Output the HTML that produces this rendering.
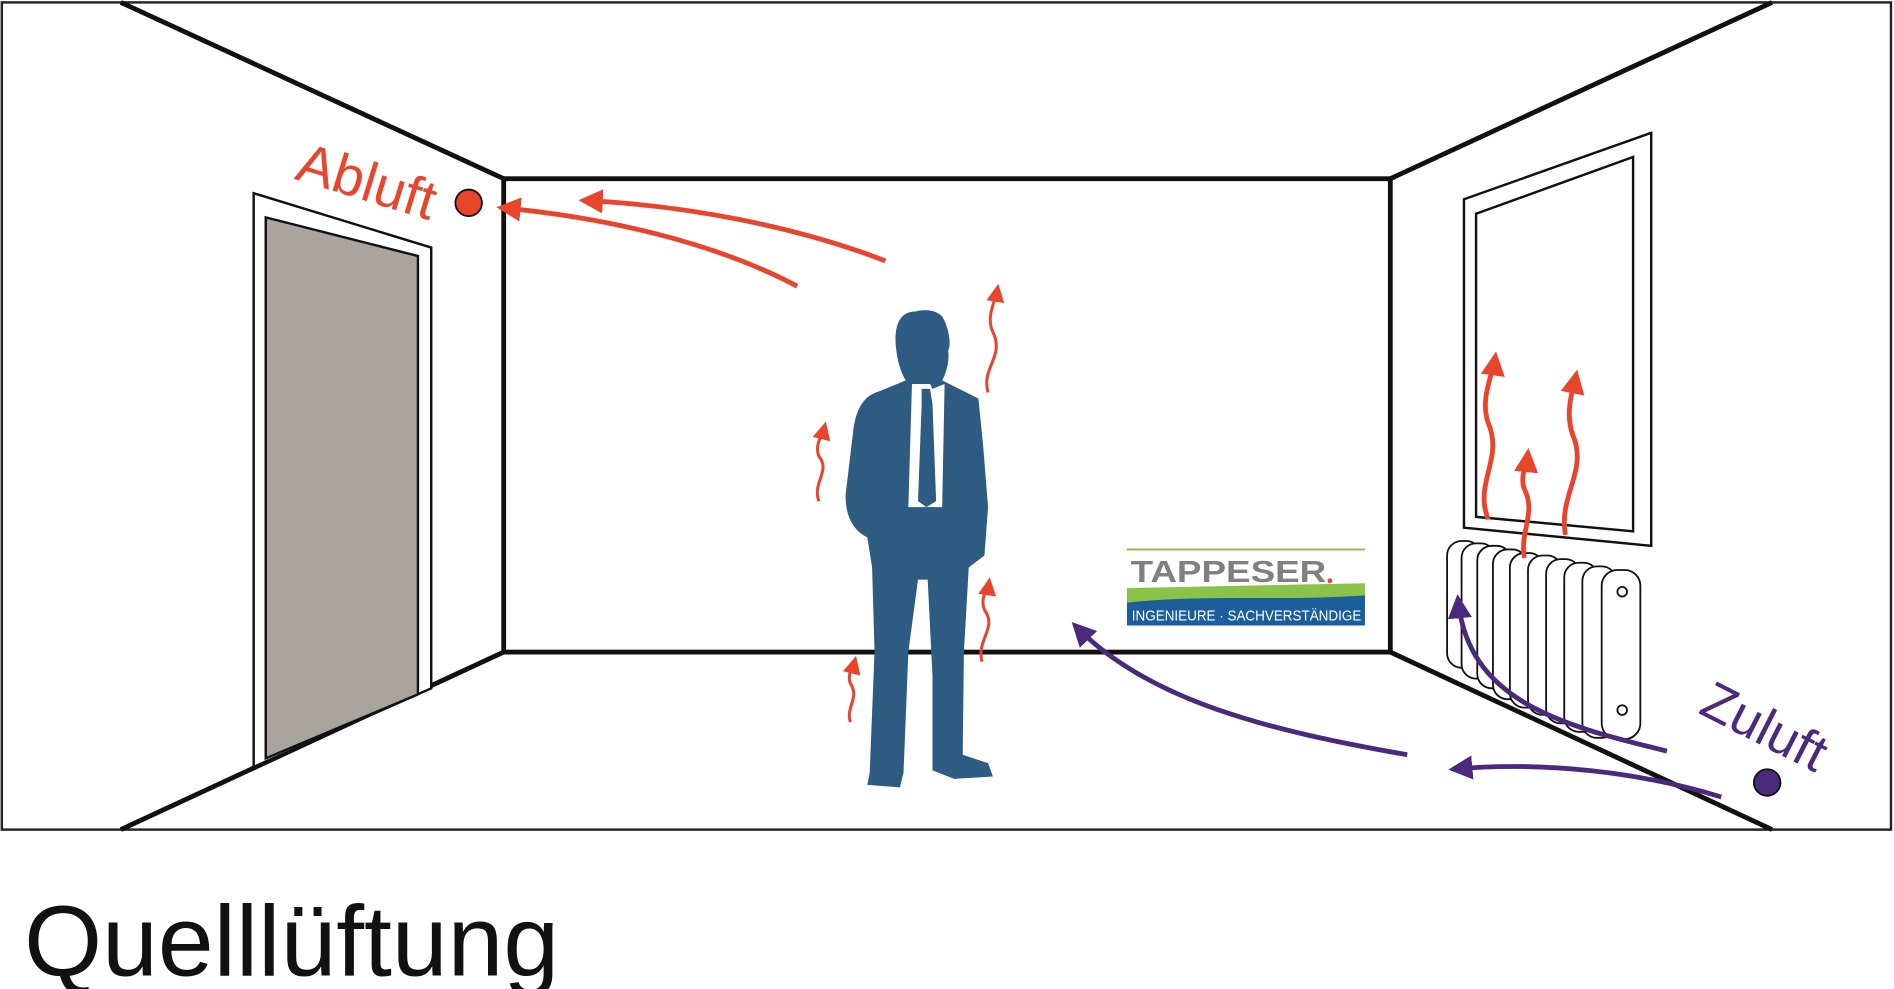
<!DOCTYPE html>
<html><head><meta charset="utf-8"><style>
html,body{margin:0;padding:0;background:#fff;width:1894px;height:989px;overflow:hidden}
svg{display:block}
text{font-family:"Liberation Sans",sans-serif}
</style></head><body>
<svg width="1894" height="989" viewBox="0 0 1568 819" preserveAspectRatio="none">
<defs>
<marker id="ar" viewBox="0 0 10 10" refX="8" refY="5" markerWidth="5" markerHeight="5" orient="auto"><path d="M0,0 L10,5 L0,10 z" fill="#e8452c"/></marker>
<marker id="ars" viewBox="0 0 10 10" refX="8" refY="5" markerWidth="6" markerHeight="6" orient="auto"><path d="M0,0 L10,5 L0,10 z" fill="#e8452c"/></marker>
<marker id="ap" viewBox="0 0 10 10" refX="8" refY="5" markerWidth="5" markerHeight="5" orient="auto"><path d="M0,0 L10,5 L0,10 z" fill="#4b2a7e"/></marker>
</defs>
<rect x="1.5" y="2" width="1564" height="685" fill="#fff" stroke="#222" stroke-width="2"/>
<g stroke="#111" stroke-width="4" fill="none">
<rect x="417" y="148" width="734" height="392"/>
<line x1="100" y1="2" x2="417" y2="148"/><line x1="1467" y1="2" x2="1151" y2="148"/>
<line x1="417" y1="540" x2="100" y2="687"/><line x1="1151" y1="540" x2="1467" y2="687"/>
</g>
<polygon points="210,160 357,205 357,570 210,635" fill="#fff" stroke="#111" stroke-width="2"/>
<polygon points="220,180 346,212 346,575 220,628" fill="#aaa49e" stroke="#111" stroke-width="2"/>
<polygon points="1212,165 1367,110 1367,452 1212,437" fill="#fff" stroke="#111" stroke-width="2"/>
<polygon points="1222,177 1352,130 1352,440 1222,428" fill="#fff" stroke="#111" stroke-width="2"/>
<g fill="#fff" stroke="#111" stroke-width="1.5">
<rect x="1198" y="448" width="28" height="105" rx="12"/>
<rect x="1210" y="450" width="28" height="112" rx="12"/>
<rect x="1223" y="452" width="28" height="118" rx="12"/>
<rect x="1236" y="455" width="28" height="124" rx="12"/>
<rect x="1250" y="458" width="28" height="128" rx="12"/>
<rect x="1265" y="460" width="28" height="132" rx="12"/>
<rect x="1280" y="463" width="28" height="136" rx="12"/>
<rect x="1295" y="466" width="28" height="140" rx="12"/>
<rect x="1310" y="469" width="28" height="142" rx="12"/>
<rect x="1326" y="472" width="32" height="140" rx="13"/>
<circle cx="1343" cy="490" r="4"/><circle cx="1343" cy="588" r="4"/>
</g>
<path fill="#2e5b82" d="M758,258 C742,258 740,275 742,290 C744,305 748,312 750,315 L728,324 C714,328 708,340 706,360 L700,410 C700,430 708,440 718,445 L722,470 L724,540 L720,640 L718,650 L745,652 L748,640 L752,540 L760,480 L768,480 L772,560 L772,638 L790,645 L822,643 L818,632 L797,625 L798,540 L802,470 L815,460 L818,420 L814,370 L810,330 L780,315 C784,308 786,298 785,290 C788,285 785,270 780,262 C774,256 764,256 758,258 Z"/>
<polygon fill="#fff" points="755,318 770,318 772,322 782,318 780,420 752,420"/>
<polygon fill="#2e5b82" points="763,322 770,322 772,335 775,415 767,420 760,415 763,335"/>
<line x1="933" y1="455" x2="1130" y2="455" stroke="#8db840" stroke-width="1.5"/>
<text x="936" y="482" font-size="25" font-weight="bold" fill="#808080" textLength="162" lengthAdjust="spacingAndGlyphs">TAPPESER</text>
<circle cx="1101" cy="481" r="2" fill="#e8452c"/>
<path d="M933,487 L1130,483 L1130,500 L933,500 Z" fill="#8bc34a"/>
<path d="M933,499 C1000,492 1060,498 1130,493 L1130,518 L933,518 Z" fill="#1c5e9c"/>
<text x="937" y="514" font-size="12.5" fill="#fff" textLength="190" lengthAdjust="spacingAndGlyphs">INGENIEURE · SACHVERSTÄNDIGE</text>
<g stroke="#e8452c" stroke-width="4" fill="none">
<path d="M660,237 C590,200 500,180 415,172" marker-end="url(#ar)"/>
<path d="M733,216 C660,188 570,170 483,166" marker-end="url(#ar)"/>
<path d="M1232,430 C1220,400 1245,380 1232,350 C1225,330 1236,310 1238,295" marker-end="url(#ar)"/>
<path d="M1296,443 C1290,410 1315,390 1302,360 C1295,340 1303,320 1305,310" marker-end="url(#ar)"/>
<path d="M1262,462 C1258,440 1272,425 1262,405 C1258,395 1264,385 1265,375" marker-end="url(#ar)"/>
</g>
<g stroke="#e8452c" stroke-width="2.5" fill="none">
<path d="M818,325 C812,305 832,295 822,275 C816,262 824,250 826,238" marker-end="url(#ars)"/>
<path d="M678,415 C672,400 688,390 678,378 C674,368 681,360 683,352" marker-end="url(#ars)"/>
<path d="M813,548 C808,530 826,520 815,505 C811,495 818,488 819,481" marker-end="url(#ars)"/>
<path d="M704,598 C700,585 712,578 704,566 C701,558 707,550 708,546" marker-end="url(#ars)"/>
</g>
<circle cx="388" cy="168" r="11" fill="#e8452c" stroke="#111" stroke-width="1.5"/>
<text transform="translate(243,148) rotate(17)" font-size="46" fill="#e8452c">Abluft</text>
<g stroke="#4b2a7e" stroke-width="4" fill="none">
<path d="M1165,625 C1050,605 950,580 890,518" marker-end="url(#ap)"/>
<path d="M1425,660 C1360,640 1280,630 1203,637" marker-end="url(#ap)"/>
<path d="M1380,622 C1290,600 1215,580 1207,496" marker-end="url(#ap)"/>
</g>
<circle cx="1463" cy="648" r="11" fill="#4b2a7e" stroke="#111" stroke-width="1.5"/>
<text transform="translate(1405,590) rotate(27)" font-size="44" fill="#4b2a7e">Zuluft</text>
<text x="20" y="808" font-size="83" fill="#111">Quelllüftung</text>
</svg>
</body></html>
